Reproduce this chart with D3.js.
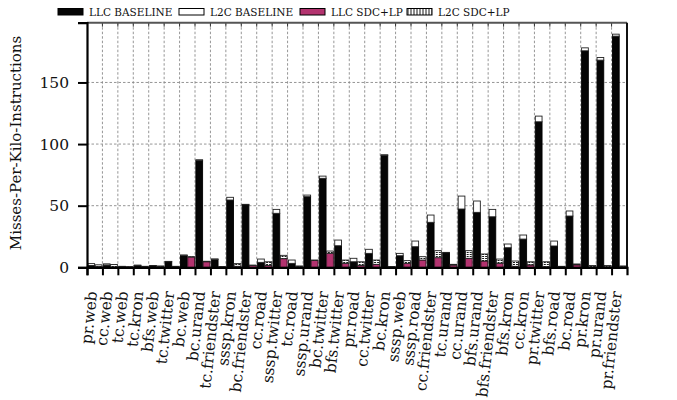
<!DOCTYPE html>
<html>
<head>
<meta charset="utf-8">
<script src="https://cdn.jsdelivr.net/npm/d3@7"></script>
<style>
  html, body { margin: 0; padding: 0; background: #fff; }
  svg { display: block; }
  text { font-family: "DejaVu Serif", serif; fill: #111; }
</style>
</head>
<body>
<svg id="chart" width="677" height="400"></svg>
<script>
// Workloads (kernel.graph)
const categories = [
  "pr.web", "cc.web", "tc.web", "tc.kron", "bfs.web", "tc.twitter", "bc.web",
  "bc.urand", "tc.friendster", "sssp.kron", "bc.friendster", "cc.road",
  "sssp.twitter", "tc.road", "sssp.urand", "bc.twitter", "bfs.twitter",
  "pr.road", "cc.twitter", "bc.kron", "sssp.web", "sssp.road", "cc.friendster",
  "tc.urand", "cc.urand", "bfs.urand", "bfs.friendster", "bfs.kron", "cc.kron",
  "pr.twitter", "bfs.road", "bc.road", "pr.kron", "pr.urand", "pr.friendster"
];

// Baseline MPKI: LLC part (bottom) and L2C part (stacked on top)
const llcBaseline = [
  1.5, 1.8, 0.5, 1.5, 1.2, 4.5, 9.7, 86.5, 6.5, 54.6, 50.8, 4.0,
  43.8, 3.2, 57.3, 72.2, 17.5, 4.5, 11.3, 91.0, 9.4, 16.7, 36.5,
  11.8, 47.3, 44.6, 41.0, 15.9, 22.9, 118.1, 17.3, 41.6, 175.7, 168.1, 187.6
];
const l2cBaseline = [
  1.5, 1.0, 0.3, 0.3, 0.3, 0.3, 0.3, 0.8, 0.3, 2.2, 0.3, 2.7,
  3.2, 2.7, 1.3, 1.8, 4.6, 2.8, 3.3, 0.3, 1.9, 4.6, 5.9,
  0.3, 10.5, 9.2, 6.0, 3.0, 3.3, 4.6, 4.0, 4.1, 2.4, 2.2, 1.6
];

// SDC+LP MPKI: LLC part (bottom) and L2C part (stacked on top)
const llcSdcLp = [
  0.5, 0.3, 0.2, 0.3, 0.3, 0.3, 8.3, 4.5, 0.3, 0.8, 1.5, 1.5,
  7.0, 0.3, 5.6, 11.3, 3.2, 1.5, 2.4, 0.3, 3.2, 5.9, 7.8,
  1.8, 7.3, 5.1, 3.2, 0.8, 1.9, 0.5, 0.3, 2.0, 0.3, 0.3, 0.3
];
const l2cSdcLp = [
  1.5, 2.0, 0.3, 0.5, 0.8, 0.5, 0.3, 0.4, 0.3, 2.2, 0.3, 3.0,
  2.7, 0.8, 0.3, 1.9, 2.7, 3.0, 3.5, 0.3, 2.2, 2.7, 5.7,
  0.6, 6.2, 5.7, 3.5, 4.3, 2.6, 4.0, 0.5, 0.7, 1.2, 1.2, 0.8
];

const yTicks = [0, 50, 100, 150];
const legendLabels = ["LLC BASELINE", "L2C BASELINE", "LLC SDC+LP", "L2C SDC+LP"];

const svg = d3.select("#chart");
const plot = { left: 87, right: 627, top: 22.7, bottom: 267.3 };
const magenta = "#b3336f";

// Fine dotted fill for the SDC+LP L2C segments
const defs = svg.append("defs");
const pat = defs.append("pattern")
  .attr("id", "dots").attr("patternUnits", "userSpaceOnUse")
  .attr("width", 3).attr("height", 2);
pat.append("rect").attr("width", 3).attr("height", 2).attr("fill", "#fff");
pat.append("rect").attr("width", 2).attr("height", 1).attr("fill", "#1a1a1a");

const x = d3.scaleBand().domain(categories).range([plot.left, plot.right]).paddingInner(0.05).paddingOuter(0.025);
const xEdge = d3.scaleLinear().domain([0, categories.length]).range([plot.left, plot.right]);
const inner = d3.scaleBand().domain(["base", "sdc"]).range([0, x.bandwidth()]);
const y = d3.scaleLinear().domain([0, 198.5]).range([plot.bottom, plot.top]);

// Grid
const grid = svg.append("g").attr("stroke", "#8a8a8a").attr("stroke-width", 0.9).attr("stroke-dasharray", "2.5,2");
grid.selectAll("line.v").data(d3.range(1, categories.length)).join("line")
  .attr("class", "v")
  .attr("x1", d => xEdge(d)).attr("x2", d => xEdge(d))
  .attr("y1", plot.top).attr("y2", plot.bottom);
grid.selectAll("line.h").data(yTicks.filter(t => t > 0)).join("line")
  .attr("class", "h")
  .attr("x1", plot.left).attr("x2", plot.right)
  .attr("y1", d => y(d)).attr("y2", d => y(d));

// Short ticks hanging from the top frame
svg.append("g").selectAll("line").data(d3.range(1, categories.length)).join("line")
  .attr("x1", d => xEdge(d)).attr("x2", d => xEdge(d))
  .attr("y1", plot.top).attr("y2", plot.top + 4)
  .attr("stroke", "#333").attr("stroke-width", 1);

// Stacked bars
const rows = categories.map((c, i) => ({
  c,
  base: [llcBaseline[i], l2cBaseline[i]],
  sdc: [llcSdcLp[i], l2cSdcLp[i]]
}));
const fills = { base: ["#050505", "#ffffff"], sdc: [magenta, "url(#dots)"] };
const strokes = { base: ["#000", "#222"], sdc: ["#3a1024", "#222"] };

const groups = svg.append("g").selectAll("g").data(rows).join("g")
  .attr("transform", d => `translate(${x(d.c)},0)`);
["base", "sdc"].forEach(key => {
  groups.each(function(d) {
    const g = d3.select(this);
    let acc = 0;
    d[key].forEach((v, j) => {
      g.append("rect")
        .attr("x", inner(key) + 0.5)
        .attr("width", inner.bandwidth() - 0.6)
        .attr("y", y(acc + v))
        .attr("height", y(acc) - y(acc + v))
        .attr("fill", fills[key][j])
        .attr("stroke", strokes[key][j])
        .attr("stroke-width", 0.9);
      acc += v;
    });
  });
});

// Frame
svg.append("line").attr("x1", plot.left).attr("x2", plot.right).attr("y1", plot.top).attr("y2", plot.top)
  .attr("stroke", "#555").attr("stroke-width", 2);
svg.append("line").attr("x1", plot.right).attr("x2", plot.right).attr("y1", plot.top).attr("y2", plot.bottom)
  .attr("stroke", "#111").attr("stroke-width", 2);

// Bottom axis: ticks on category boundaries
const xTickAxis = svg.append("g").attr("transform", `translate(0,${plot.bottom})`)
  .call(d3.axisBottom(xEdge).tickValues(d3.range(0, categories.length)).tickSize(8).tickFormat(""));
xTickAxis.selectAll("line").attr("stroke", "#000").attr("stroke-width", 2);
xTickAxis.select(".domain").attr("stroke", "#000").attr("stroke-width", 2.2);

// Category labels
const xLabelAxis = svg.append("g").attr("transform", `translate(0,${plot.bottom})`)
  .call(d3.axisBottom(x).tickSize(0).tickPadding(0));
xLabelAxis.select(".domain").remove();
xLabelAxis.selectAll("text")
  .attr("font-size", 15.5)
  .attr("font-family", "DejaVu Serif, serif")
  .attr("font-weight", 300)
  .attr("text-anchor", "end")
  .attr("dy", "0.35em")
  .attr("transform", "translate(-3,24) rotate(-84)")
  .attr("x", 0).attr("y", 0);

// Left axis
const yAxis = svg.append("g").attr("transform", `translate(${plot.left},0)`)
  .call(d3.axisLeft(y).tickValues(yTicks).tickSize(9).tickPadding(9));
yAxis.select(".domain").attr("stroke", "#000").attr("stroke-width", 2.2);
yAxis.selectAll("line").attr("stroke", "#000").attr("stroke-width", 2);
yAxis.selectAll("text").attr("font-size", 15.5).attr("font-family", "DejaVu Serif, serif").attr("fill", "#111");

// Y title
svg.append("text")
  .attr("transform", `translate(21,${(plot.top + plot.bottom) / 2 - 2}) rotate(-90)`)
  .attr("text-anchor", "middle")
  .attr("font-size", 15)
  .text("Misses-Per-Kilo-Instructions");

// Legend
const legendX = [58, 179, 300, 407];
const legendFill = ["#050505", "#ffffff", magenta, "url(#dots)"];
const legend = svg.append("g").selectAll("g").data(legendLabels).join("g")
  .attr("transform", (d, i) => `translate(${legendX[i]},8.5)`);
legend.append("rect").attr("width", 25).attr("height", 6.5)
  .attr("fill", (d, i) => legendFill[i]).attr("stroke", "#000").attr("stroke-width", 1);
legend.append("text").attr("x", 31).attr("y", 7).attr("font-size", 10.5).text(d => d);
</script>
</body>
</html>
